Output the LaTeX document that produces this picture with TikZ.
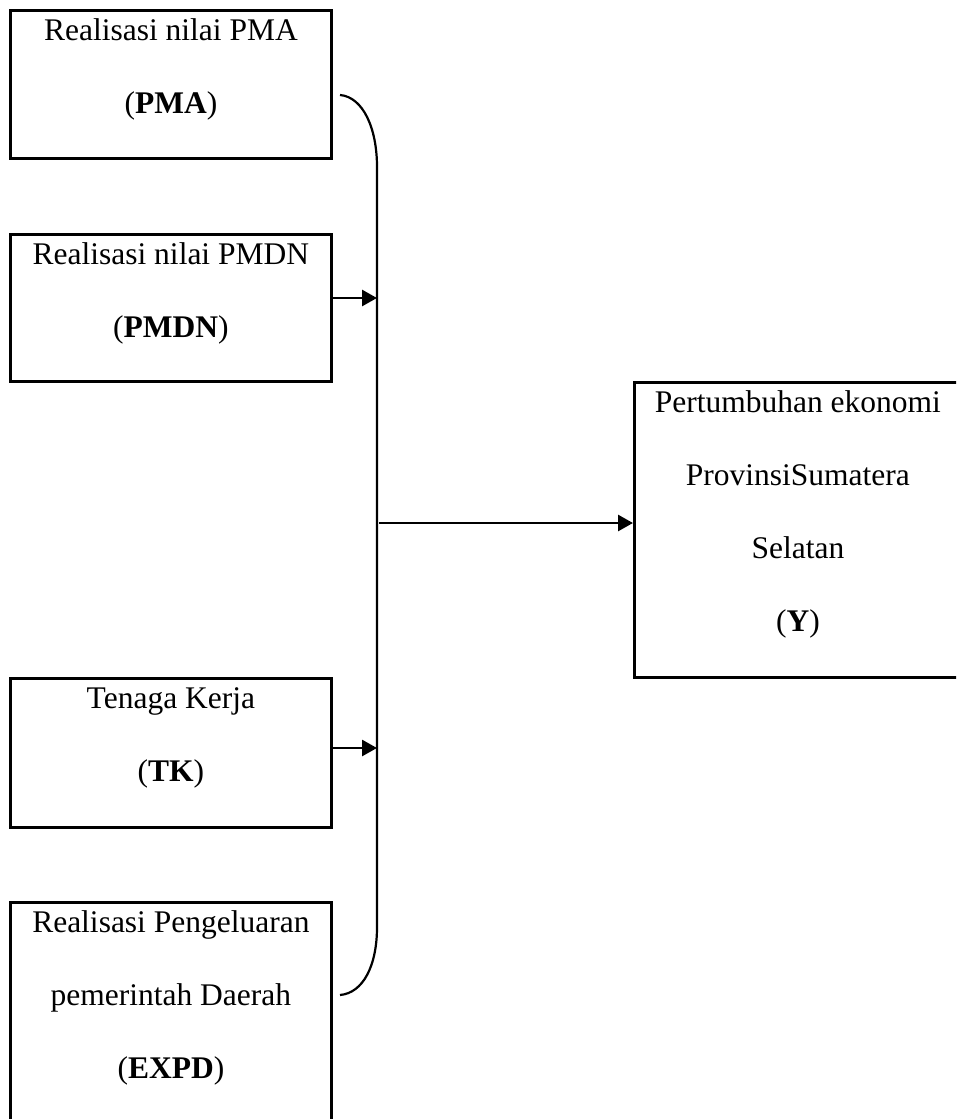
\documentclass[tikz,border=0pt]{standalone}
\usepackage{fontspec}
\setmainfont{Liberation Serif}
\usetikzlibrary{arrows.meta}
\newcommand{\boxcontent}[3]{\parbox[t][#1][t]{#2}{\centering\fontsize{31.5}{73}\selectfont\rule{0pt}{30pt}#3}}
\begin{document}
\begin{tikzpicture}[x=1pt,y=-1pt,
  box/.style={draw, line width=2.8pt, inner sep=0pt, anchor=north west},
  arr/.style={line width=2.8pt, -{Triangle[length=15pt,width=16pt]}},
  bus/.style={line width=2.2pt}]
\useasboundingbox (0,0) rectangle (956,1119);
\clip (0,0) rectangle (956,1119);
\node[box] (pma) at (9,9) {\boxcontent{148pt}{321pt}{Realisasi nilai PMA\\(\textbf{PMA})}};
\node[box] (pmdn) at (9,233) {\boxcontent{147pt}{321pt}{Realisasi nilai PMDN\\(\textbf{PMDN})}};
\node[box] (tk) at (9,677) {\boxcontent{149pt}{321pt}{Tenaga Kerja\\(\textbf{TK})}};
\node[box] (expd) at (9,901) {\boxcontent{240pt}{321pt}{Realisasi Pengeluaran\\pemerintah Daerah\\(\textbf{EXPD})}};
\node[box] (y) at (633,381) {\boxcontent{295pt}{327pt}{Pertumbuhan ekonomi\\ProvinsiSumatera\\Selatan\\(\textbf{Y})}};
\coordinate (btop) at (340,95);
\coordinate (bbot) at (340,995);
\draw[bus] (btop) .. controls (363,97) and (377,128) .. (377,167) -- (377,927) .. controls (377,966) and (363,993) .. (bbot);
\coordinate (j1) at (377,298);
\coordinate (j2) at (377,748);
\coordinate (j3) at (379,523);
\draw[arr] (pmdn.east |- j1) -- (j1);
\draw[arr] (tk.east |- j2) -- (j2);
\draw[arr] (j3) -- (y.west |- j3);
\end{tikzpicture}
\end{document}
